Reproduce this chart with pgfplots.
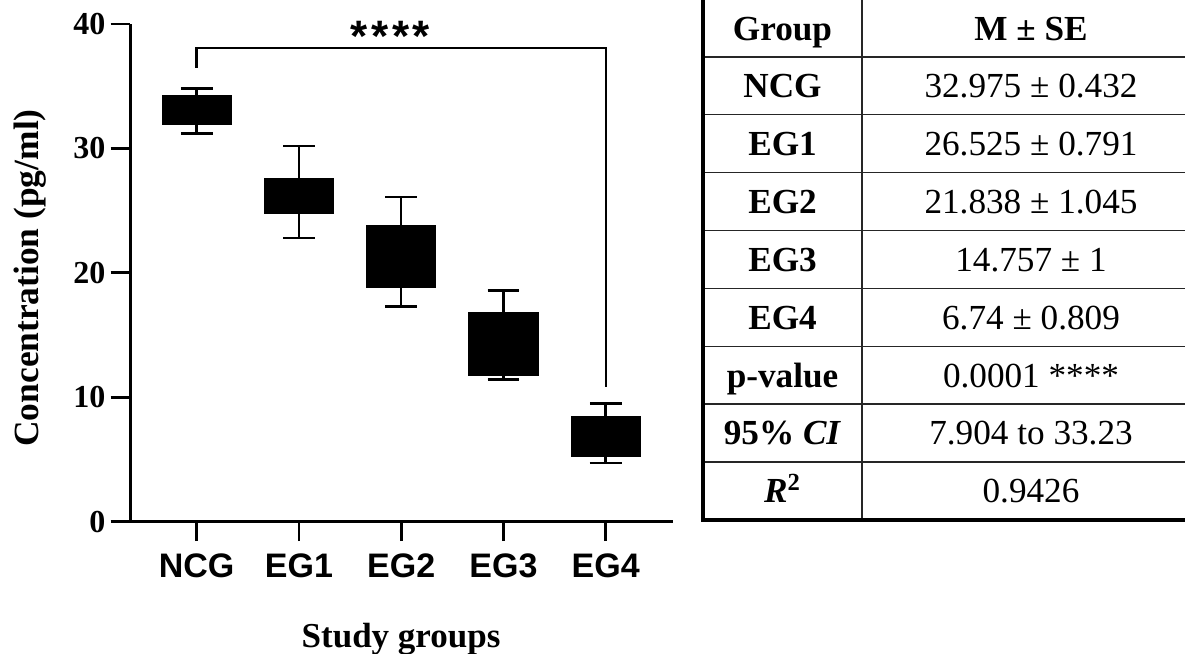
\documentclass[border=0pt]{standalone}
\usepackage{pgfplots}
\pgfplotsset{compat=1.18}
\usepgfplotslibrary{statistics}
\usepackage{fontspec}
\setmainfont{Liberation Serif}
\newfontfamily\arialfont{Liberation Sans}
\begin{document}
\begin{tikzpicture}
\useasboundingbox (0,0) rectangle (592.5pt,-327pt);
\begin{axis}[
  at={(65.1pt,-260.8pt)}, anchor=south west,
  scale only axis, width=271.4pt, height=248.8pt,
  xmin=-0.650, xmax=4.658, ymin=0, ymax=40,
  axis lines=left, axis line style={-, line width=1.35pt},
  clip=false,
  boxplot/draw direction=y,
  /pgf/number format/assume math mode=true,
  xtick={0,1,2,3,4}, xticklabels={NCG,EG1,EG2,EG3,EG4},
  ytick={0,10,20,30,40},
  tick align=outside, major tick length=9.75pt,
  tick style={black, line width=1.35pt},
  xticklabel style={font=\arialfont\bfseries\fontsize{17}{17}\selectfont, inner sep=0pt, anchor=north, yshift=-6.3pt},
  yticklabel style={font=\bfseries\fontsize{16}{16}\selectfont, inner sep=0pt, anchor=east, xshift=-2.5pt},
  xlabel={Study groups},
  xlabel style={font=\bfseries\fontsize{17.5}{17.5}\selectfont, at={(axis description cs:0.499,-0.254)}, anchor=base, inner sep=0pt},
  ylabel={Concentration (pg/ml)},
  ylabel style={font=\bfseries\fontsize{17.7}{17.7}\selectfont, at={(axis description cs:-0.169,0.4896)}, anchor=base, inner sep=0pt},
]
\addplot[boxplot prepared={draw position=0, lower whisker=31.19, lower quartile=32.00, median=33.00, upper quartile=34.16, upper whisker=34.82, box extend=0.662, whisker extend=0.311}, draw=black, fill=black, line width=1.25pt] coordinates {};
\addplot[boxplot prepared={draw position=1, lower whisker=22.79, lower quartile=24.80, median=26.50, upper quartile=27.54, upper whisker=30.19, box extend=0.662, whisker extend=0.311}, draw=black, fill=black, line width=1.25pt] coordinates {};
\addplot[boxplot prepared={draw position=2, lower whisker=17.29, lower quartile=18.88, median=21.80, upper quartile=23.74, upper whisker=26.10, box extend=0.662, whisker extend=0.311}, draw=black, fill=black, line width=1.25pt] coordinates {};
\addplot[boxplot prepared={draw position=3, lower whisker=11.42, lower quartile=11.80, median=14.70, upper quartile=16.78, upper whisker=18.59, box extend=0.662, whisker extend=0.311}, draw=black, fill=black, line width=1.25pt] coordinates {};
\addplot[boxplot prepared={draw position=4, lower whisker=4.72, lower quartile=5.26, median=6.74, upper quartile=8.37, upper whisker=9.49, box extend=0.662, whisker extend=0.311}, draw=black, fill=black, line width=1.25pt] coordinates {};
\draw[line width=1.2pt] (axis cs:0,36.47) |- (axis cs:4,38.05) -- (axis cs:4,10.84);
\node[font=\arialfont\bfseries\fontsize{22}{22}\selectfont, anchor=base, inner sep=0pt] at (axis cs:1.895,37.75) {*\hspace{1.8pt}*\hspace{1.8pt}*\hspace{1.8pt}*};
\end{axis}
\begin{scope}[x=0.5pt, y=-0.5pt]
  \foreach \yy in {56.9,114.75,172.6,230.45,288.3,346.15,404,461.85}
    \draw[line width=0.65pt, black!85] (703,\yy) -- (1200,\yy);
  \draw[line width=0.65pt, black!85] (862,-2) -- (862,519.7);
  \draw[line width=2pt] (703,-2) -- (703,519.7) -- (1200,519.7);
  \begin{scope}[every node/.style={anchor=base, inner sep=0pt, font=\fontsize{17.6}{17.6}\selectfont}]
    \node at (782.5,40.0) {\textbf{Group}};
    \node at (1031,40.0) {\textbf{M ± SE}};
    \node at (782.5,97.8) {\textbf{NCG}};
    \node at (1031,97.8) {32.975 ± 0.432};
    \node at (782.5,155.7) {\textbf{EG1}};
    \node at (1031,155.7) {26.525 ± 0.791};
    \node at (782.5,213.5) {\textbf{EG2}};
    \node at (1031,213.5) {21.838 ± 1.045};
    \node at (782.5,271.4) {\textbf{EG3}};
    \node at (1031,271.4) {14.757 ± 1};
    \node at (782.5,329.2) {\textbf{EG4}};
    \node at (1031,329.2) {6.74 ± 0.809};
    \node at (782.5,387.1) {\textbf{p-value}};
    \node at (1031,387.1) {0.0001 ****};
    \node at (782.5,444.9) {\textbf{95\% \textit{CI}}};
    \node at (1031,444.9) {7.904 to 33.23};
    \node at (782.5,502.8) {\textbf{\textit{R}\textsuperscript{2}}};
    \node at (1031,502.8) {0.9426};
  \end{scope}
\end{scope}
\end{tikzpicture}
\end{document}
